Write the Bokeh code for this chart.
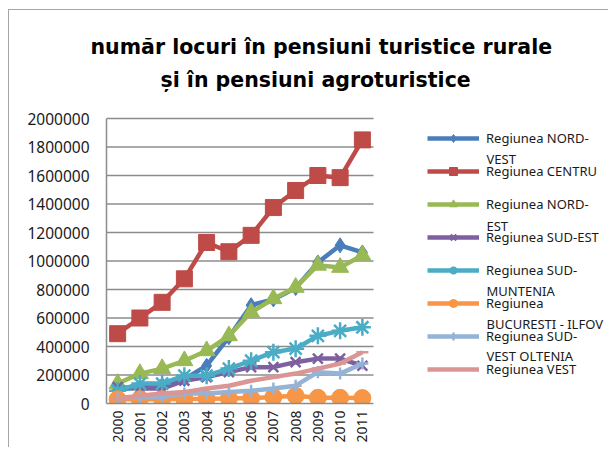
from bokeh.plotting import figure
from bokeh.models import (Range1d, FixedTicker, BasicTickFormatter,
                          Legend, LegendItem, Label, Title)
from bokeh.embed import file_html
from bokeh.resources import INLINE
from math import pi

years = ["2000", "2001", "2002", "2003", "2004", "2005",
         "2006", "2007", "2008", "2009", "2010", "2011"]
y_ticks = [0, 200000, 400000, 600000, 800000, 1000000,
           1200000, 1400000, 1600000, 1800000, 2000000]

nord_vest = [100000, 110000, 130000, 170000, 265000, 465000, 690000, 730000, 810000, 990000, 1110000, 1060000]
centru = [490000, 600000, 710000, 875000, 1130000, 1065000, 1180000, 1375000, 1495000, 1600000, 1585000, 1850000]
nord_est = [140000, 210000, 245000, 300000, 370000, 475000, 640000, 735000, 815000, 970000, 955000, 1040000]
sud_est = [115000, 105000, 105000, 160000, 185000, 220000, 255000, 255000, 290000, 315000, 315000, 265000]
sud_muntenia = [90000, 140000, 140000, 195000, 195000, 245000, 300000, 360000, 385000, 475000, 510000, 535000]
bucuresti = [30000, 30000, 30000, 32000, 33000, 35000, 38000, 45000, 55000, 40000, 40000, 38000]
sud_vest = [35000, 45000, 45000, 70000, 70000, 80000, 90000, 105000, 125000, 220000, 210000, 280000]
vest = [35000, 55000, 70000, 80000, 105000, 125000, 160000, 185000, 210000, 245000, 280000, 360000]

title_lines = ["număr locuri în pensiuni turistice rurale", "și în pensiuni agroturistice"]

series = [
    # (values, legend label, continuation line, color, marker, size)
    (nord_vest, "Regiunea NORD-", "VEST", "#4A7EBB", "diamond", 15),
    (centru, "Regiunea CENTRU", None, "#BE4B48", "square", 16),
    (nord_est, "Regiunea NORD-", "EST", "#98B954", "triangle", 17),
    (sud_est, "Regiunea SUD-EST", None, "#7D60A0", "x", 14),
    (sud_muntenia, "Regiunea SUD-", "MUNTENIA", "#4BACC6", "asterisk", 17),
    (bucuresti, "Regiunea", "BUCURESTI - ILFOV", "#F79646", "circle", 17),
    (sud_vest, "Regiunea SUD-", "VEST OLTENIA", "#95B3D7", "cross", 12),
    (vest, "Regiunea VEST", None, "#D99694", "dash", 12),
]

FONT = "Noto Sans"
GRID = "#8c8c8c"

W, H = 600, 438
LEFT, BOTTOM, TOP = 97, 45, 87    # canvas pixels left of / below / above the frame
CAT_PX = 22.25                    # pixels per year category
PLOT_TOP_PX = 285                 # pixels from 0 to 2 000 000

n = len(years)
xs = list(range(n))
x_end = -0.5 + (W - LEFT) / CAT_PX
y_end = y_ticks[-1] * (H - BOTTOM - TOP) / PLOT_TOP_PX

p = figure(width=W, height=H, output_backend="svg", toolbar_location=None,
           title=None,
           x_range=Range1d(-0.5, x_end), y_range=Range1d(0, y_end),
           min_border_left=LEFT, min_border_right=0, min_border_top=TOP,
           min_border_bottom=BOTTOM,
           styles={"margin-left": "8px", "margin-top": "9px",
                   "border-left": "1px solid #a6a6a6",
                   "border-top": "1px solid #a6a6a6"})
p.outline_line_color = None
p.background_fill_color = "white"
p.border_fill_color = "white"

# two title lines (second line added first: it sits nearer the plot)
for txt, off, so in [(title_lines[1], 54, 11), (title_lines[0], -16, 3)]:
    p.add_layout(Title(text=txt, align="left", offset=off, standoff=so,
                       text_font="DejaVu Sans", text_font_style="bold",
                       text_font_size="20.5px", text_color="#000000"), "above")

p.xgrid.grid_line_color = None
p.ygrid.grid_line_color = None

# horizontal gridlines limited to the plot area
p.segment(x0=[-0.5] * (len(y_ticks) - 1), x1=[n - 0.5] * (len(y_ticks) - 1),
          y0=y_ticks[1:], y1=y_ticks[1:], line_color=GRID, line_width=1.5)

p.yaxis.ticker = FixedTicker(ticks=y_ticks)
p.yaxis.bounds = (0, y_ticks[-1])
p.yaxis.formatter = BasicTickFormatter(use_scientific=False)
p.yaxis.axis_line_color = GRID
p.yaxis.axis_line_width = 1.5
p.yaxis.major_tick_line_color = None
p.yaxis.major_tick_out = 0
p.yaxis.major_tick_in = 0
p.yaxis.minor_tick_line_color = None
p.yaxis.major_label_standoff = 17
p.yaxis.major_label_text_font = FONT
p.yaxis.major_label_text_font_size = "15.5px"
p.yaxis.major_label_text_color = "#1a1a1a"

p.xaxis.ticker = FixedTicker(ticks=xs)
p.xaxis.major_label_overrides = {i: y for i, y in zip(xs, years)}
p.xaxis.bounds = (-0.5, n - 0.5)
p.xaxis.axis_line_color = GRID
p.xaxis.axis_line_width = 1.5
p.xaxis.major_tick_line_color = None
p.xaxis.major_tick_out = 0
p.xaxis.major_tick_in = 0
p.xaxis.minor_tick_line_color = None
p.xaxis.major_label_orientation = pi / 2
p.xaxis.major_label_standoff = 7
p.xaxis.major_label_text_font = FONT
p.xaxis.major_label_text_font_size = "14px"
p.xaxis.major_label_text_color = "#1a1a1a"

items = []
for vals, lab, cont, color, marker, size in series:
    lr = p.line(xs, vals, line_color=color, line_width=4.5)
    lw = 2.5 if marker in ("x", "asterisk", "cross", "dash") else 1
    sr = p.scatter(xs, vals, marker=marker, size=size, fill_color=color,
                   line_color=color, line_width=lw)
    items.append(LegendItem(label=lab, renderers=[lr, sr]))

legend = Legend(items=items, location=(321, 24), orientation="vertical",
                border_line_color=None, background_fill_alpha=0,
                padding=0, margin=0, spacing=13, glyph_width=52, glyph_height=20,
                label_height=20, label_standoff=7,
                label_text_font=FONT, label_text_font_size="13px",
                label_text_color="#1a1a1a")
p.add_layout(legend)

# second lines of the wrapped legend labels
cont_y = [245, None, 178, None, 113, 80, 48, None]
for (vals, lab, cont, color, marker, size), cy in zip(series, cont_y):
    if cont:
        p.add_layout(Label(x=380, y=cy, x_units="screen", y_units="screen",
                           text=cont, text_font=FONT, text_font_size="13px",
                           text_color="#1a1a1a", text_baseline="middle"))

open("out.html", "w").write(file_html(p, INLINE))
